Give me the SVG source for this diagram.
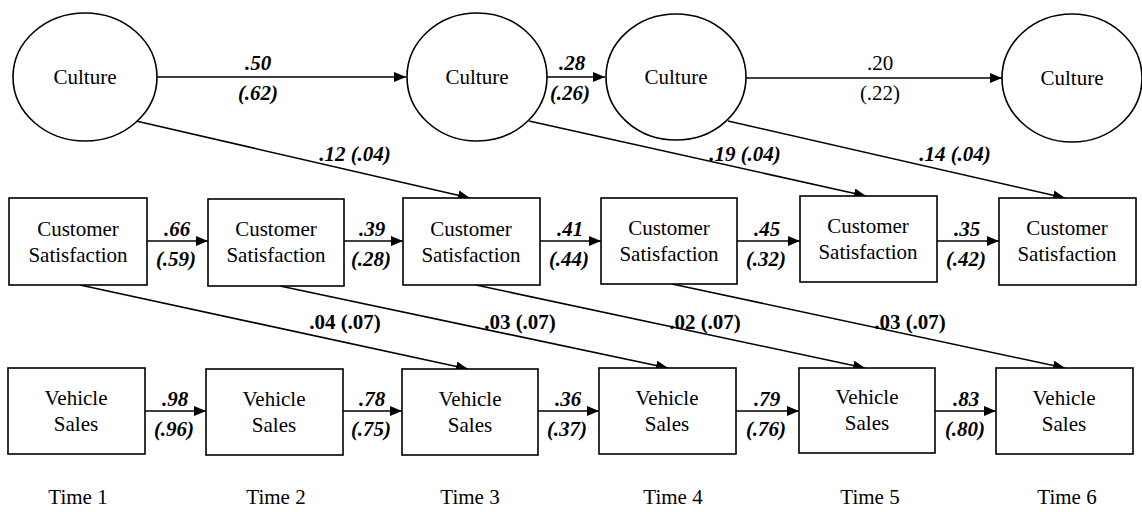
<svg xmlns="http://www.w3.org/2000/svg" width="1142" height="512" viewBox="0 0 1142 512" font-family="'Liberation Serif', 'Times New Roman', serif">
<style>
.n{fill:#fff;stroke:#000;stroke-width:1.6}
text{font-family:'Liberation Serif','Times New Roman',serif;text-anchor:middle;fill:#000}
.t{font-size:21px}
.l{font-size:21px}
.bi{font-weight:bold;font-style:italic}
.b{font-weight:bold}
.c{stroke:#000;stroke-width:1.6;fill:none;marker-end:url(#ah)}
</style>
<defs>
<marker id="ah" viewBox="0 0 12 10" refX="12" refY="5" markerWidth="12" markerHeight="10" markerUnits="userSpaceOnUse" orient="auto"><path d="M0,0 L12,5 L0,10 z" fill="#000"/></marker>
</defs>
<rect width="1142" height="512" fill="#fff"/>
<g id="connectors">
<line class="c" x1="157" y1="77" x2="406" y2="77"/>
<line class="c" x1="547" y1="77" x2="605" y2="77"/>
<line class="c" x1="746" y1="78" x2="1002" y2="78"/>
<line class="c" x1="136" y1="121" x2="470" y2="198"/>
<line class="c" x1="529" y1="121" x2="866" y2="196"/>
<line class="c" x1="728" y1="121" x2="1065" y2="198"/>
<line class="c" x1="147" y1="241" x2="208" y2="241"/>
<line class="c" x1="344" y1="241" x2="403" y2="241"/>
<line class="c" x1="540" y1="241" x2="601" y2="241"/>
<line class="c" x1="737" y1="241" x2="800" y2="241"/>
<line class="c" x1="937" y1="241" x2="999" y2="241"/>
<line class="c" x1="80" y1="285" x2="468" y2="369"/>
<line class="c" x1="280" y1="286" x2="668" y2="368"/>
<line class="c" x1="476" y1="285" x2="865" y2="368"/>
<line class="c" x1="672" y1="284" x2="1065" y2="368"/>
<line class="c" x1="145" y1="411" x2="206" y2="411"/>
<line class="c" x1="343" y1="411" x2="402" y2="411"/>
<line class="c" x1="538" y1="411" x2="599" y2="411"/>
<line class="c" x1="736" y1="411" x2="799" y2="411"/>
<line class="c" x1="935" y1="411" x2="996" y2="411"/>
</g>
<g id="labels">
<text class="l bi" x="258" y="70">.50</text>
<text class="l bi" x="258" y="100">(.62)</text>
<text class="l bi" x="572" y="70">.28</text>
<text class="l bi" x="570" y="100">(.26)</text>
<text class="l" x="880" y="70">.20</text>
<text class="l" x="880" y="100">(.22)</text>
<text class="l bi" x="355" y="161">.12 (.04)</text>
<text class="l bi" x="745" y="161">.19 (.04)</text>
<text class="l bi" x="955" y="161">.14 (.04)</text>
<text class="l bi" x="177" y="236">.66</text>
<text class="l bi" x="176" y="266">(.59)</text>
<text class="l bi" x="372" y="236">.39</text>
<text class="l bi" x="371" y="266">(.28)</text>
<text class="l bi" x="570" y="236">.41</text>
<text class="l bi" x="569" y="266">(.44)</text>
<text class="l bi" x="767" y="236">.45</text>
<text class="l bi" x="766" y="266">(.32)</text>
<text class="l bi" x="967" y="236">.35</text>
<text class="l bi" x="966" y="266">(.42)</text>
<text class="l b" x="345" y="329">.04 (.07)</text>
<text class="l b" x="520" y="329">.03 (.07)</text>
<text class="l b" x="705" y="329">.02 (.07)</text>
<text class="l b" x="910" y="329">.03 (.07)</text>
<text class="l bi" x="175" y="406">.98</text>
<text class="l bi" x="174" y="436">(.96)</text>
<text class="l bi" x="372" y="406">.78</text>
<text class="l bi" x="371" y="436">(.75)</text>
<text class="l bi" x="568" y="406">.36</text>
<text class="l bi" x="567" y="436">(.37)</text>
<text class="l bi" x="767" y="406">.79</text>
<text class="l bi" x="766" y="436">(.76)</text>
<text class="l bi" x="966" y="406">.83</text>
<text class="l bi" x="965" y="436">(.80)</text>
</g>
<g id="culture1"><ellipse class="n" cx="85" cy="77" rx="72" ry="64"/><text class="t" x="85" y="84">Culture</text></g>
<g id="culture2"><ellipse class="n" cx="477" cy="77" rx="70" ry="64"/><text class="t" x="477" y="84">Culture</text></g>
<g id="culture3"><ellipse class="n" cx="676" cy="77" rx="70" ry="63"/><text class="t" x="676" y="84">Culture</text></g>
<g id="culture4"><ellipse class="n" cx="1072" cy="78" rx="70" ry="64"/><text class="t" x="1072" y="85">Culture</text></g>
<g id="cs1"><rect class="n" x="9" y="198" width="138" height="87"/><text class="t" x="78" y="236">Customer</text><text class="t" x="78" y="262">Satisfaction</text></g>
<g id="cs2"><rect class="n" x="208" y="199" width="136" height="87"/><text class="t" x="276" y="236">Customer</text><text class="t" x="276" y="262">Satisfaction</text></g>
<g id="cs3"><rect class="n" x="403" y="198" width="137" height="87"/><text class="t" x="471" y="236">Customer</text><text class="t" x="471" y="262">Satisfaction</text></g>
<g id="cs4"><rect class="n" x="601" y="198" width="136" height="86"/><text class="t" x="669" y="235">Customer</text><text class="t" x="669" y="261">Satisfaction</text></g>
<g id="cs5"><rect class="n" x="800" y="196" width="137" height="86"/><text class="t" x="868" y="233">Customer</text><text class="t" x="868" y="259">Satisfaction</text></g>
<g id="cs6"><rect class="n" x="999" y="198" width="137" height="87"/><text class="t" x="1067" y="235">Customer</text><text class="t" x="1067" y="261">Satisfaction</text></g>
<g id="vs1"><rect class="n" x="8" y="368" width="137" height="86"/><text class="t" x="76" y="405">Vehicle</text><text class="t" x="76" y="431">Sales</text></g>
<g id="vs2"><rect class="n" x="206" y="369" width="137" height="86"/><text class="t" x="274" y="406">Vehicle</text><text class="t" x="274" y="432">Sales</text></g>
<g id="vs3"><rect class="n" x="402" y="369" width="136" height="86"/><text class="t" x="470" y="406">Vehicle</text><text class="t" x="470" y="432">Sales</text></g>
<g id="vs4"><rect class="n" x="599" y="368" width="137" height="86"/><text class="t" x="667" y="405">Vehicle</text><text class="t" x="667" y="431">Sales</text></g>
<g id="vs5"><rect class="n" x="799" y="368" width="136" height="85"/><text class="t" x="867" y="404">Vehicle</text><text class="t" x="867" y="430">Sales</text></g>
<g id="vs6"><rect class="n" x="996" y="368" width="137" height="86"/><text class="t" x="1064" y="405">Vehicle</text><text class="t" x="1064" y="431">Sales</text></g>
<g id="times">
<text class="t" x="78" y="504">Time 1</text>
<text class="t" x="276" y="504">Time 2</text>
<text class="t" x="470" y="504">Time 3</text>
<text class="t" x="673" y="504">Time 4</text>
<text class="t" x="870" y="504">Time 5</text>
<text class="t" x="1067" y="504">Time 6</text>
</g>
</svg>
